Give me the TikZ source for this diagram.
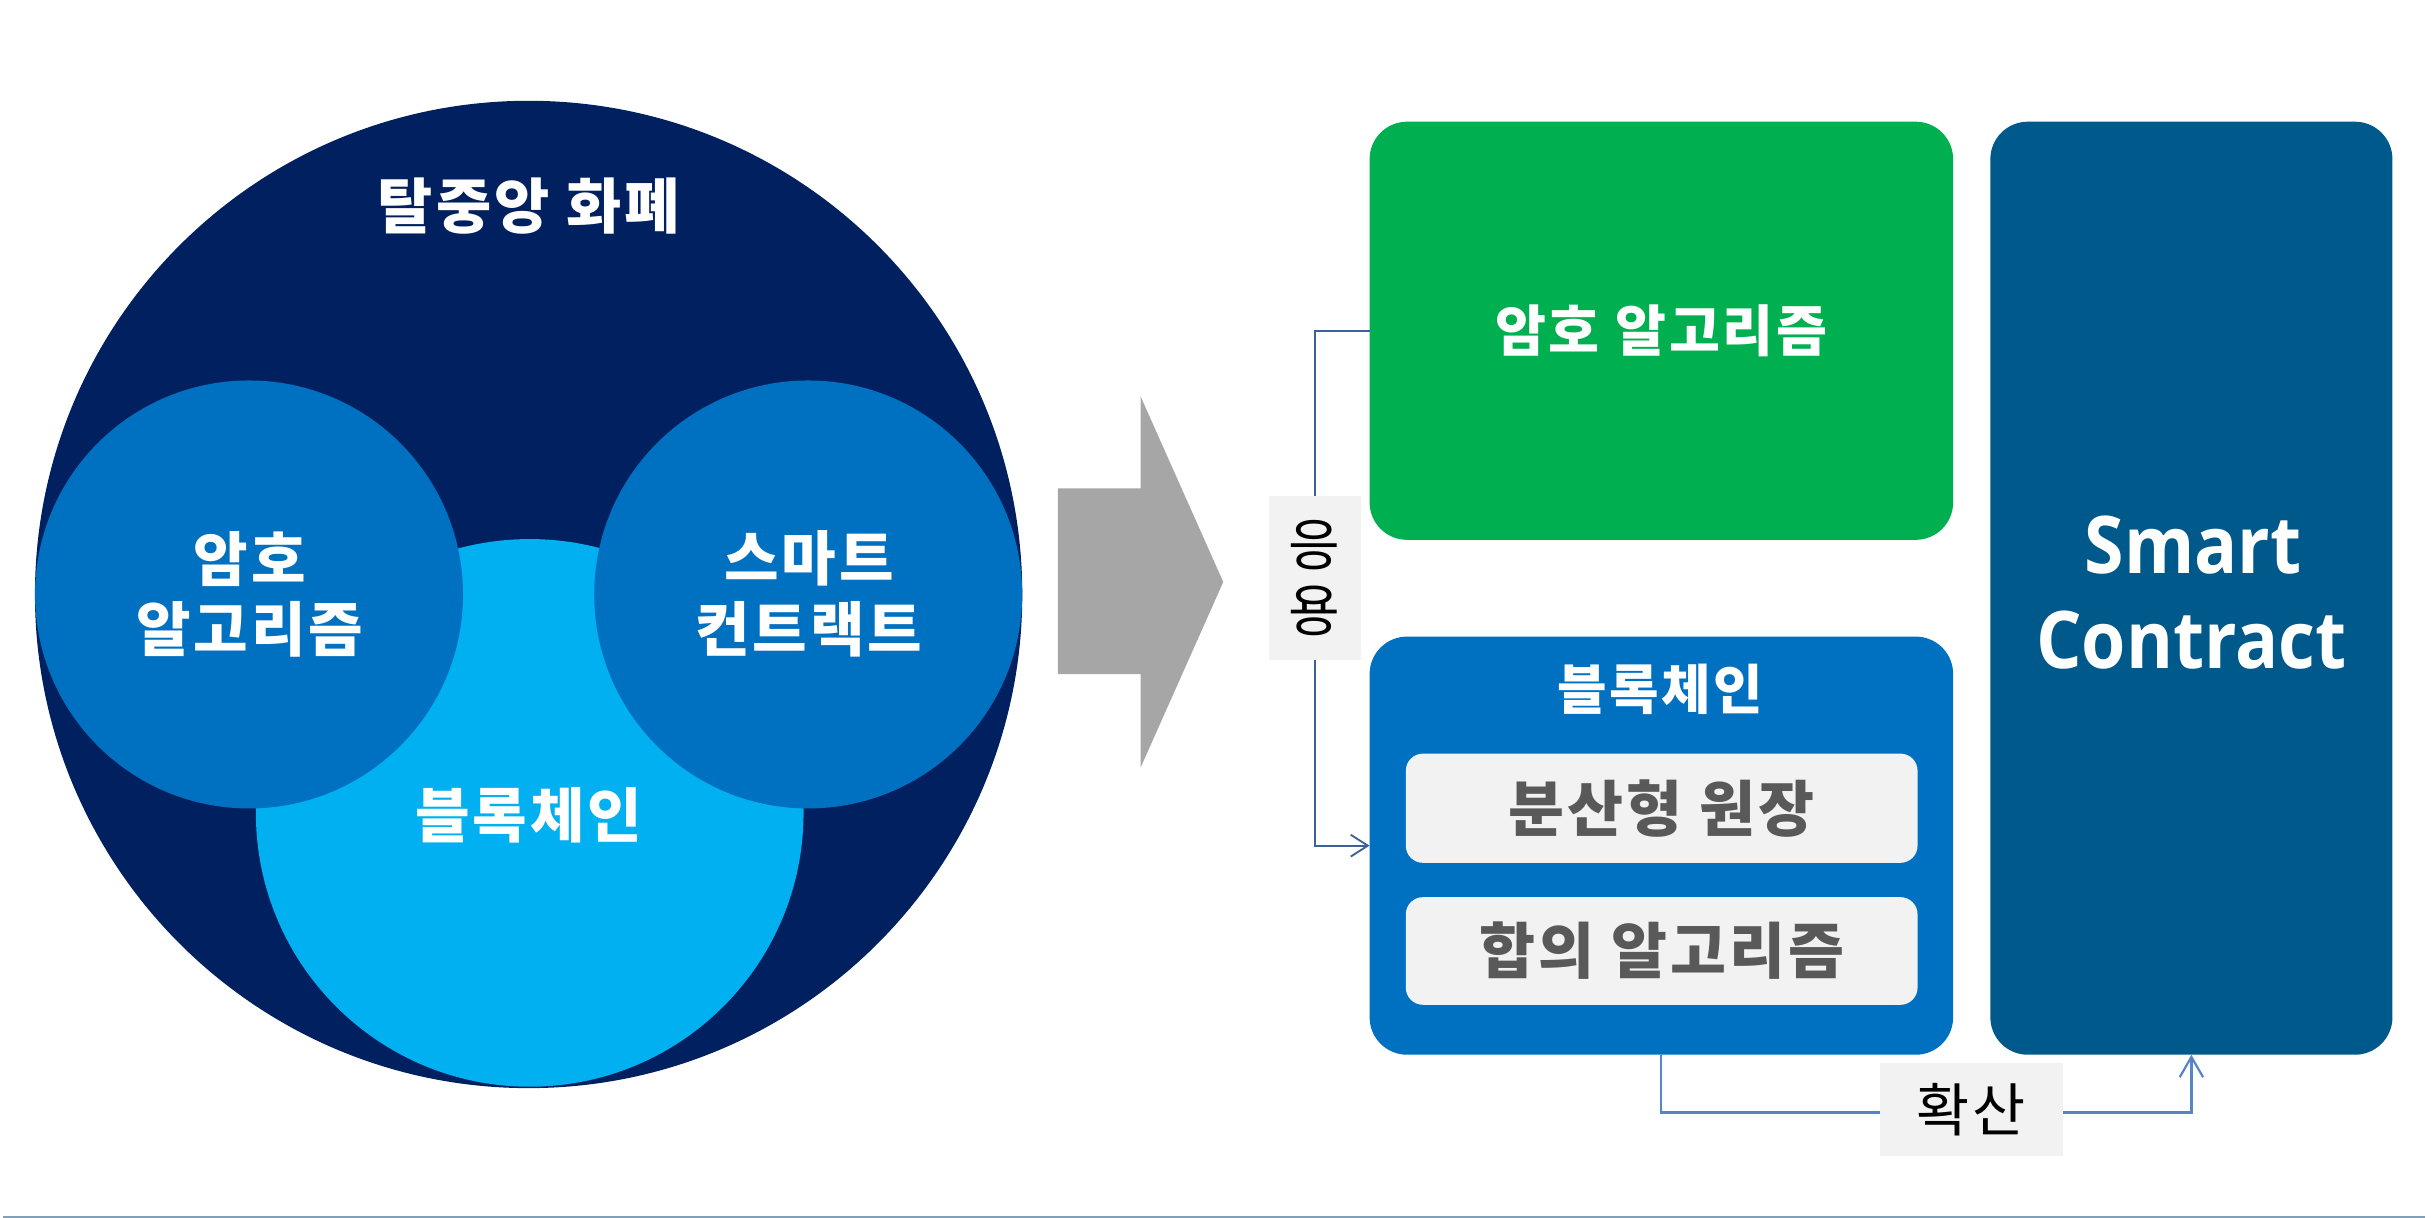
\documentclass[tikz,border=0pt]{standalone}
\usepackage{fontspec}
\newfontfamily\kr{Noto Sans CJK KR}
\newfontfamily\krs{Noto Sans CJK KR}[LetterSpace=5]
\newfontfamily\osb{Open Sans}[FakeStretch=0.9]
\usetikzlibrary{arrows.meta}
\definecolor{navy}{HTML}{002060}
\definecolor{mblue}{HTML}{0070C0}
\definecolor{lblue}{HTML}{00B0F0}
\definecolor{cgreen}{HTML}{00B050}
\definecolor{scblue}{HTML}{00598B}
\definecolor{lgrey}{HTML}{F2F2F2}
\definecolor{dgrey}{HTML}{595959}
\definecolor{agrey}{HTML}{A6A6A6}
\definecolor{conna}{HTML}{3F6199}
\definecolor{connb}{HTML}{5585C5}
\definecolor{rulec}{HTML}{819FB6}
\tikzset{
  disc/.style={circle, draw=none, inner sep=0pt, outer sep=0pt},
  rbox/.style={rectangle, rounded corners=24pt, draw=none, inner sep=0pt, outer sep=0pt},
  ibox/.style={rectangle, rounded corners=11pt, draw=none, fill=lgrey, inner sep=0pt, outer sep=0pt,
     text=dgrey, font=\krs\bfseries\fontsize{39}{44}\selectfont},
  wtxt/.style={text=white, inner sep=0pt, font=\krs\bfseries\fontsize{38}{44}\selectfont},
  lbl/.style={rectangle, fill=lgrey, draw=none, inner sep=0pt, text=black, align=center,
     font=\kr\fontsize{36}{42}\selectfont},
  sctxt/.style={text=white, inner sep=0pt, font=\osb\bfseries\fontsize{51}{60}\selectfont},
  connA/.style={draw=conna, line width=1.2pt, -{Straight Barb[length=11pt,width=14pt]}},
  connB/.style={draw=connb, line width=1.4pt, -{Straight Barb[length=13pt,width=15pt]}},
}
\begin{document}
\begin{tikzpicture}[x=1pt,y=-1pt]
\useasboundingbox (0,0) rectangle (1560,780.6);
% left diagram
\node[disc, fill=navy, minimum size=632.8pt] (outer) at (338.8,381) {};
\node[disc, fill=lblue, minimum size=351pt] (bcdisc) at (339.5,521) {};
\node[disc, fill=mblue, minimum size=274.3pt] (cryptodisc) at (159.6,381) {};
\node[disc, fill=mblue, minimum size=274.3pt] (smartdisc) at (518,381) {};
\node[wtxt, font=\krs\bfseries\fontsize{38.5}{44}\selectfont] (title) at (339,132) {탈중앙 화폐};
\node[wtxt] (ca) at (160,358) {암호};
\node[wtxt] (cb) at (160,403.5) {알고리즘};
\node[wtxt] (sa) at (518.5,358) {스마트};
\node[wtxt] (sb) at (518.5,403.5) {컨트랙트};
\node[wtxt] (bct) at (339,522.5) {블록체인};
% big arrow
\fill[agrey] (678,313) -- (731,313) -- (731,254) -- (784,373) -- (731,492) -- (731,432) -- (678,432) -- cycle;
% right diagram
\node[rbox, fill=cgreen, minimum width=374pt, minimum height=268pt, text=white,
  font=\krs\bfseries\fontsize{35.5}{40}\selectfont] (green) at (1064.8,212) {암호 알고리즘};
\node[rbox, fill=mblue, minimum width=374pt, minimum height=268pt] (blue) at (1064.8,542) {};
\node[rbox, fill=scblue, minimum width=257.7pt, minimum height=598pt] (sc) at (1404.5,377) {};
\node[wtxt, font=\krs\bfseries\fontsize{34.5}{40}\selectfont] (bctitle) at (1064,441.5) {블록체인};
\node[ibox, minimum width=328pt, minimum height=70pt] (ledger) at (1065,518) {분산형 원장};
\node[ibox, minimum width=328pt, minimum height=69pt] (consensus) at (1065,609.5) {합의 알고리즘};
\node[sctxt] (sct1) at (1405.5,349.5) {Smart};
\node[sctxt] (sct2) at (1404.5,410) {Contract};
% connectors
\coordinate (j1) at (843,212);
\draw[connA] (green.west) -- (j1) |- (blue.west);
\node[lbl, minimum width=59pt, minimum height=105pt] (yy) at (842.5,370.5) {응\\용};
\coordinate (j2) at (1404.5,713);
\draw[connB] (blue.south) |- (j2) -- (sc.south);
\node[lbl, minimum width=117pt, minimum height=60pt, font=\krs\fontsize{37}{42}\selectfont] (hs) at (1263.5,711) {확산};
% bottom rule
\draw[rulec, line width=0.9pt] (2,780) -- (1554,780);
\end{tikzpicture}
\end{document}
